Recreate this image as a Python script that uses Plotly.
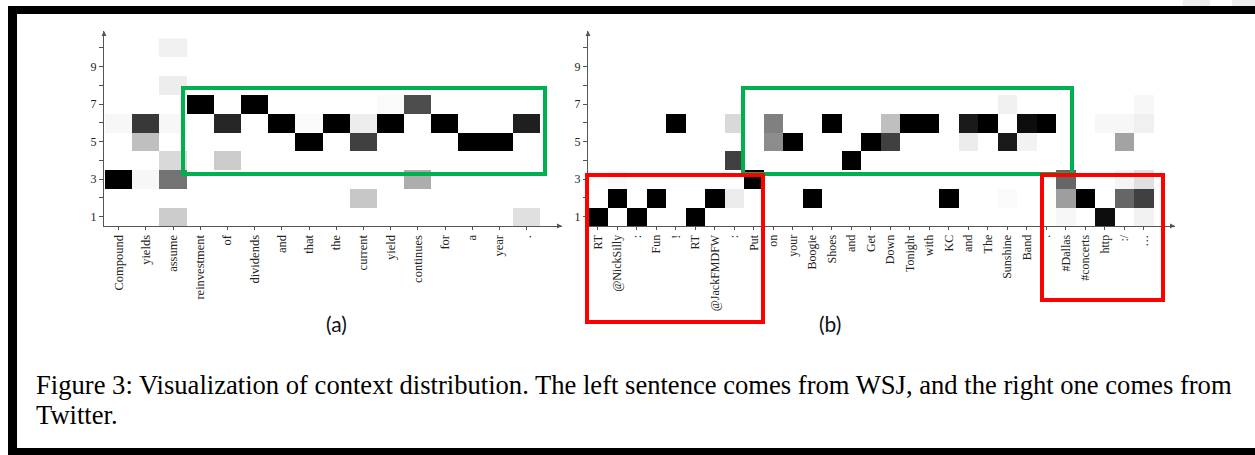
import plotly.graph_objects as go

W, H = 1255, 455

# ---------------- data ----------------
tokens_a = ["Compound", "yields", "assume", "reinvestment", "of", "dividends", "and",
            "that", "the", "current", "yield", "continues", "for", "a", "year", "."]
tokens_b = ["RT", "@NickSilly", ":", "Fun", "!", "RT", "@JackFMDFW", ":", "Put", "on",
            "your", "Boogie", "Shoes", "and", "Get", "Down", "Tonight", "with", "KC",
            "and", "The", "Sunshine", "Band", ".", "#Dallas", "#concerts", "http", ":/", "…"]
rows = list(range(1, 11))
y_tick_text = ["1", "", "3", "", "5", "", "7", "", "9", ""]

# context weights, one list per row (row 1 .. row 10), one value per token
weights_a = [
    [0, 0, 0.20, 0, 0, 0, 0, 0, 0, 0, 0, 0, 0, 0, 0, 0.12],
    [0, 0, 0, 0, 0, 0, 0, 0, 0, 0.22, 0, 0, 0, 0, 0, 0],
    [1, 0.03, 0.55, 0, 0, 0, 0, 0, 0, 0, 0, 0.32, 0, 0, 0, 0],
    [0, 0, 0.15, 0, 0.20, 0, 0, 0, 0, 0, 0, 0, 0, 0, 0, 0],
    [0, 0.25, 0, 0, 0, 0, 0, 1, 0, 0.75, 0, 0, 0, 1, 1, 0],
    [0.03, 0.78, 0.03, 0, 0.85, 0, 1, 0.02, 1, 0.07, 1, 0, 1, 0, 0, 0.88],
    [0, 0, 0, 1, 0, 1, 0, 0, 0, 0, 0.02, 0.70, 0, 0, 0, 0],
    [0, 0, 0.07, 0, 0, 0, 0, 0, 0, 0, 0, 0, 0, 0, 0, 0],
    [0, 0, 0, 0, 0, 0, 0, 0, 0, 0, 0, 0, 0, 0, 0, 0],
    [0, 0, 0.06, 0, 0, 0, 0, 0, 0, 0, 0, 0, 0, 0, 0, 0],
]
weights_b = [
    [1, 0, 1, 0, 0, 1, 0, 0, 0, 0, 0, 0, 0, 0, 0, 0, 0, 0, 0, 0, 0, 0, 0, 0, 0.03, 0, 0.95, 0, 0.05],
    [0, 1, 0, 1, 0, 0, 1, 0.08, 0, 0, 0, 1, 0, 0, 0, 0, 0, 0, 1, 0, 0, 0.02, 0, 0, 0.38, 1, 0, 0.60, 0.75],
    [0, 0.02, 0, 0, 0, 0, 0, 0, 1, 0, 0, 0, 0, 0, 0, 0, 0, 0, 0, 0, 0, 0, 0, 0, 0.60, 0, 0, 0.04, 0.12],
    [0, 0, 0, 0, 0, 0, 0, 0.75, 0, 0, 0, 0, 0, 1, 0, 0, 0, 0, 0, 0, 0, 0, 0, 0, 0, 0, 0, 0, 0],
    [0, 0, 0, 0, 0, 0, 0, 0, 0, 0.45, 1, 0, 0, 0, 1, 0.75, 0, 0, 0, 0.08, 0, 0.90, 0.05, 0, 0, 0, 0, 0.36, 0],
    [0, 0, 0, 0, 1, 0, 0, 0.15, 0, 0.50, 0, 0, 1, 0, 0, 0.25, 1, 1, 0, 0.90, 1, 0, 0.95, 1, 0, 0, 0.03, 0.03, 0.06],
    [0, 0, 0, 0, 0, 0, 0, 0, 0, 0, 0, 0, 0, 0, 0, 0, 0, 0, 0, 0, 0, 0.06, 0, 0, 0, 0, 0, 0, 0.03],
    [0] * 29,
    [0] * 29,
    [0] * 29,
]

caption_1 = "Figure 3: Visualization of context distribution. The left sentence comes from WSJ, and the right one comes from"
caption_2 = "Twitter."

# ---------------- layout geometry (pixels) ----------------
def px(x):
    return x / W

def py(y):
    return 1 - y / H

axis_top, axis_bottom = 31, 226
row_h = 18.75
a_left, a_first, a_col, a_right = 104, 105, 27.2, 562
b_left, b_first, b_col, b_right = 588, 588, 19.5, 1175

gray = [[0, "#ffffff"], [1, "#000000"]]

fig = go.Figure()
fig.add_trace(go.Heatmap(x=list(range(1, len(tokens_a) + 1)), y=rows, z=weights_a,
                         colorscale=gray, zmin=0, zmax=1, showscale=False,
                         xaxis="x", yaxis="y", hoverinfo="skip"))
fig.add_trace(go.Heatmap(x=list(range(1, len(tokens_b) + 1)), y=rows, z=weights_b,
                         colorscale=gray, zmin=0, zmax=1, showscale=False,
                         xaxis="x2", yaxis="y2", hoverinfo="skip"))

tick_font_x = dict(family="Liberation Serif, Times New Roman, serif", size=12.5, color="#222")
tick_font_y = dict(family="Liberation Serif, Times New Roman, serif", size=12, color="#222")
axis_col = "#555"

def xaxis(left, first, col, right, labels, fsize):
    lo = 0.5 - (first - left) / col
    hi = 0.5 + (right - first) / col
    return dict(domain=[px(left), px(right)], range=[lo, hi], tickmode="array",
                tickvals=list(range(1, len(labels) + 1)), ticktext=labels,
                tickangle=-90, ticks="outside", ticklen=3, tickcolor=axis_col,
                showline=True, linecolor=axis_col, linewidth=1, showgrid=False,
                zeroline=False, tickfont=dict(tick_font_x, size=fsize), fixedrange=True)

def yaxis(anchor):
    return dict(domain=[py(axis_bottom), py(axis_top)],
                range=[0.5, 0.5 + (axis_bottom - axis_top) / row_h],
                tickmode="array", tickvals=rows, ticktext=y_tick_text,
                ticks="outside", ticklen=4, tickcolor=axis_col, showline=True,
                linecolor=axis_col, linewidth=1, showgrid=False, zeroline=False,
                tickfont=tick_font_y, anchor=anchor, fixedrange=True)

shapes = []
# outer frame of the figure
frame = "#000000"
shapes.append(dict(type="rect", xref="paper", yref="paper", x0=px(8), x1=px(W), y0=py(14), y1=py(6),
                   fillcolor=frame, line_width=0))
shapes.append(dict(type="rect", xref="paper", yref="paper", x0=px(8), x1=px(17), y0=py(455), y1=py(6),
                   fillcolor=frame, line_width=0))
shapes.append(dict(type="rect", xref="paper", yref="paper", x0=px(8), x1=px(W), y0=py(455), y1=py(448),
                   fillcolor=frame, line_width=0))
for x0, x1 in [(1183, 1210), (1232, 1255)]:
    shapes.append(dict(type="rect", xref="paper", yref="paper", x0=px(x0), x1=px(x1), y0=py(6), y1=py(0),
                       fillcolor="#eeeeee", line_width=0))

green = "#00b050"
red = "#ff0000"
for (x0, y0, x1, y1, c) in [(183, 88, 545, 174, green), (743, 88, 1072, 174, green),
                            (587, 175, 763, 322, red), (1042, 175, 1163, 300, red)]:
    shapes.append(dict(type="rect", xref="paper", yref="paper", x0=px(x0), x1=px(x1),
                       y0=py(y1), y1=py(y0), line=dict(color=c, width=4), fillcolor="rgba(0,0,0,0)"))

annotations = []
# axis arrows
for ax_x in [a_left, b_left]:
    annotations.append(dict(xref="paper", yref="paper", x=px(ax_x), y=py(axis_top), ax=0, ay=6,
                            showarrow=True, arrowhead=2, arrowsize=1, arrowwidth=1,
                            arrowcolor=axis_col, text=""))
for ax_x in [a_right, b_right]:
    annotations.append(dict(xref="paper", yref="paper", x=px(ax_x), y=py(axis_bottom), ax=-6, ay=0,
                            showarrow=True, arrowhead=2, arrowsize=1, arrowwidth=1,
                            arrowcolor=axis_col, text=""))
sub_font = dict(family="Lato, Open Sans, sans-serif", size=21, color="#111")
annotations.append(dict(xref="paper", yref="paper", x=px(337), y=py(323), text="(a)",
                        showarrow=False, font=sub_font, xanchor="center", yanchor="middle"))
annotations.append(dict(xref="paper", yref="paper", x=px(830), y=py(323), text="(b)",
                        showarrow=False, font=sub_font, xanchor="center", yanchor="middle"))
cap_font = dict(family="Liberation Serif, Times New Roman, serif", size=26.6, color="#000")
annotations.append(dict(xref="paper", yref="paper", x=px(35), y=py(384.5), text=caption_1,
                        showarrow=False, font=cap_font, xanchor="left", yanchor="middle",
                        borderpad=0))
annotations.append(dict(xref="paper", yref="paper", x=px(35), y=py(415), text=caption_2,
                        showarrow=False, font=cap_font, xanchor="left", yanchor="middle",
                        borderpad=0))

fig.update_layout(
    width=W, height=H, margin=dict(l=0, r=0, t=0, b=0, pad=0),
    paper_bgcolor="#ffffff", plot_bgcolor="rgba(0,0,0,0)", showlegend=False,
    xaxis=xaxis(a_left, a_first, a_col, a_right, tokens_a, 12.5),
    yaxis=yaxis("x"),
    xaxis2=xaxis(b_left, b_first, b_col, b_right, tokens_b, 12),
    yaxis2=yaxis("x2"),
    shapes=shapes, annotations=annotations,
)
fig.layout.xaxis.anchor = "y"
fig.layout.xaxis2.anchor = "y2"

fig.write_html("out.html", config={"displayModeBar": False})
